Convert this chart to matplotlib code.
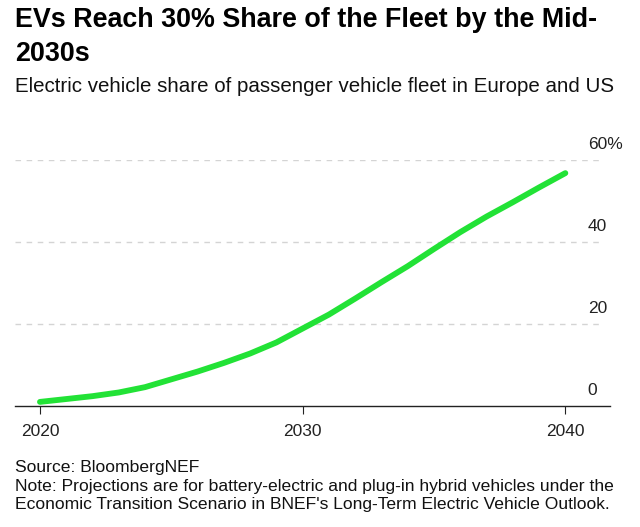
import matplotlib.pyplot as plt

# Data (share of fleet, %)
years = [2020, 2021, 2022, 2023, 2024, 2025, 2026, 2027, 2028, 2029, 2030,
         2031, 2032, 2033, 2034, 2035, 2036, 2037, 2038, 2039, 2040]
share = [1.0, 1.7, 2.4, 3.3, 4.6, 6.5, 8.4, 10.5, 12.8, 15.5, 18.9,
         22.3, 26.2, 30.2, 34.1, 38.3, 42.4, 46.2, 49.7, 53.3, 56.8]
x_ticks = [2020, 2030, 2040]
y_ticks = [0, 20, 40, 60]
y_labels = ['0', '20', '40', '60%']

plt.rcParams['font.family'] = ['Liberation Sans', 'DejaVu Sans']

fig = plt.figure(figsize=(6.4, 5.27), dpi=100)
W, H = 640, 527
ax = fig.add_axes([15 / W, 1 - 406 / H, 595 / W, 246 / H])

ax.plot(years, share, color='#22e236', lw=4.2, solid_capstyle='round',
        solid_joinstyle='round', zorder=3)

ax.set_xlim(2019.05, 2041.7)
ax.set_ylim(0, 60)

# dashed gridlines
for v in y_ticks[1:]:
    ax.axhline(v, xmin=0, xmax=0.985, color='#d4d4d4', lw=1, ls=(0, (4, 4)), zorder=1)

for s in ['top', 'right', 'left']:
    ax.spines[s].set_visible(False)
ax.spines['bottom'].set_color('#222222')
ax.spines['bottom'].set_linewidth(1)

ax.set_xticks(x_ticks)
ax.set_xticklabels([str(t) for t in x_ticks])
ax.tick_params(axis='x', length=6, color='#222222', labelsize=12.5, pad=7, labelcolor='#222222')
ax.set_yticks([])

# y labels sit above their gridlines at the right
for v, lab in zip(y_ticks, y_labels):
    ax.text(2040.85, v + 2.0, lab, fontsize=12.5, color='#222222', ha='left', va='bottom')

fig.text(15 / W, 1 - 7 / H, 'EVs Reach 30% Share of the Fleet by the Mid-\n2030s',
         fontsize=19.4, fontweight='bold', ha='left', va='top', color='#000000',
         linespacing=1.4)
fig.text(15 / W, 1 - 77 / H, 'Electric vehicle share of passenger vehicle fleet in Europe and US',
         fontsize=14.8, ha='left', va='top', color='#111111')

fig.text(15 / W, 1 - 460 / H,
         'Source: BloombergNEF\n'
         'Note: Projections are for battery-electric and plug-in hybrid vehicles under the\n'
         'Economic Transition Scenario in BNEF\'s Long-Term Electric Vehicle Outlook.',
         fontsize=12.6, ha='left', va='top', color='#111111', linespacing=1.3)

fig.savefig('out.png', dpi=100)
